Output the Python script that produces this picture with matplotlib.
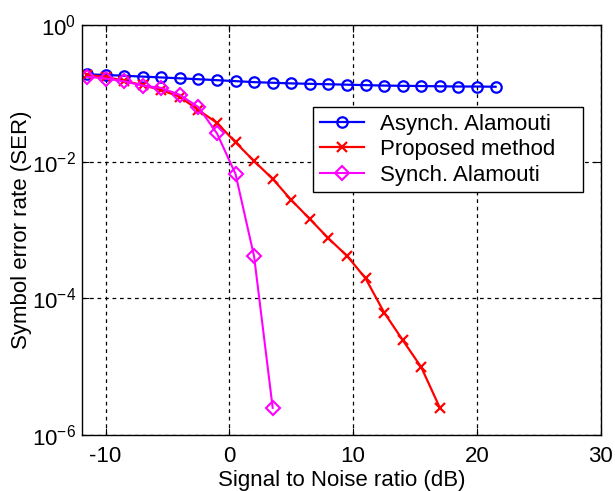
import numpy as np
import matplotlib
matplotlib.use("Agg")
import matplotlib.pyplot as plt
from matplotlib.ticker import FixedLocator, NullLocator

plt.rcParams['font.family'] = ['Liberation Sans', 'DejaVu Sans']
plt.rcParams['mathtext.fontset'] = 'custom'
plt.rcParams['mathtext.rm'] = 'Liberation Sans'
plt.rcParams['mathtext.it'] = 'Liberation Sans:italic'
plt.rcParams['mathtext.bf'] = 'Liberation Sans:bold'
plt.rcParams['axes.unicode_minus'] = False

# data
snr_async = [-11.5, -10, -8.5, -7, -5.5, -4, -2.5, -1, 0.5, 2, 3.5, 5, 6.5, 8,
             9.5, 11, 12.5, 14, 15.5, 17, 18.5, 20, 21.5]
ser_async = [0.19, 0.186, 0.181, 0.176, 0.171, 0.166, 0.161, 0.156, 0.151, 0.146,
             0.143, 0.140, 0.138, 0.136, 0.134, 0.132, 0.130, 0.129, 0.128, 0.127,
             0.126, 0.126, 0.125]

snr_prop = [-11.5, -10, -8.5, -7, -5.5, -4, -2.5, -1, 0.5, 2, 3.5, 5, 6.5, 8,
            9.5, 11, 12.5, 14, 15.5, 17]
ser_prop = [0.185, 0.175, 0.153, 0.132, 0.112, 0.089, 0.057, 0.037, 0.0192, 0.0102,
            0.0056, 0.00275, 0.00145, 0.000755, 0.00042, 0.000196, 6.2e-5, 2.45e-5,
            9.8e-6, 2.5e-6]

snr_sync = [-11.5, -10, -8.5, -7, -5.5, -4, -2.5, -1, 0.5, 2, 3.5]
ser_sync = [0.175, 0.165, 0.15, 0.13, 0.12, 0.095, 0.063, 0.026, 0.0066, 0.00041, 2.5e-6]

fig = plt.figure(figsize=(6.15, 4.91), dpi=100)
ax = fig.add_axes([0.1333, 0.114, 0.8437, 0.835])

ax.semilogy(snr_async, ser_async, color='#0000ff', lw=1.6, marker='o', ms=7.5,
            mfc='none', mew=1.6, label='Asynch. Alamouti')
ax.semilogy(snr_prop, ser_prop, color='#ff0000', lw=1.6, marker='x', ms=6.5,
            mew=1.6, label='Proposed method')
ax.semilogy(snr_sync, ser_sync, color='#ff00ff', lw=1.5, marker='D', ms=7,
            mfc='none', mew=1.5, label='Synch. Alamouti')

ax.set_xlim(-11.9, 30)
ax.set_ylim(1e-6, 1)
ax.set_xticks([-10, 0, 10, 20, 30])
ax.yaxis.set_major_locator(FixedLocator([1e-6, 1e-4, 1e-2, 1]))
ax.yaxis.set_minor_locator(NullLocator())
ax.tick_params(direction='in', length=5, labelsize=16, colors='black',
               top=True, right=True)
ax.tick_params(axis='x', pad=8)
ax.tick_params(axis='y', pad=4)
ax.grid(True, which='major', color='black', linestyle=(0, (3, 3)), lw=0.9)

for s in ax.spines.values():
    s.set_linewidth(1.0)

ax.set_xlabel('Signal to Noise ratio (dB)', fontsize=16, labelpad=2)
ax.set_ylabel('Symbol error rate (SER)', fontsize=16)
ax.yaxis.set_label_coords(-0.096, 0.5)

leg = ax.legend(loc='upper left', bbox_to_anchor=(0.445, 0.588, 0.52, 0.212),
                mode='expand', fontsize=16, fancybox=False, framealpha=1,
                edgecolor='black', handlelength=2.0, borderpad=0.3,
                labelspacing=0.2, handletextpad=0.7, borderaxespad=0)
leg.get_frame().set_linewidth(1.0)

fig.savefig('out.png', dpi=100)
